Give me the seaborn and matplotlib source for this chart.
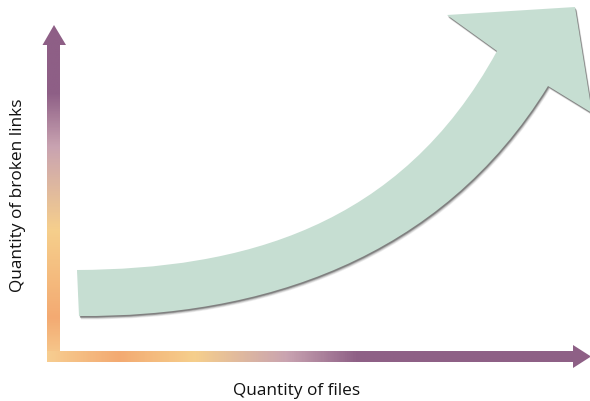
import matplotlib
matplotlib.use("Agg")
import matplotlib.pyplot as plt
from matplotlib.patches import Polygon, PathPatch
from matplotlib.path import Path
import seaborn as sns
import numpy as np

# growth band edges as cubic bezier control points (pixel-style coords, y grows downward)
upper_x = [77, 240, 400, 497]
upper_y = [271, 270, 230, 52]
lower_x = [548, 440, 260, 79]
lower_y = [87, 262, 318, 317]
# arrow head: left wing, tip, right wing
head_x = [447, 575, 592]
head_y = [16, 8, 114]

# axis gradient stops (fraction along axis, colour)
axis_stops = [0.0, 0.13, 0.39, 0.64, 0.8, 1.0]
y_axis_colors = ["#f7cd90", "#f3aa72", "#f6cf8c", "#c9a3b1", "#8e5f86", "#8e5f86"]
x_stops = [0.0, 0.13, 0.27, 0.44, 0.57, 1.0]
x_axis_colors = ["#f7cd90", "#f3aa72", "#f6cf8c", "#c9a3b1", "#8e6086", "#8e6086"]

xlabel = "Quantity of files"
ylabel = "Quantity of broken links"

sns.set_theme(style="white")
plt.rcParams['font.family'] = ['Open Sans', 'DejaVu Sans']

fig = plt.figure(figsize=(5.9, 4.02), dpi=100)
ax = fig.add_axes([0, 0, 1, 1])


def grad_cmap(stops, colors):
    n = 256
    pos = np.linspace(0, 1, n)
    rgb = np.array([matplotlib.colors.to_rgb(c) for c in colors])
    out = np.stack([np.interp(pos, stops, rgb[:, k]) for k in range(3)], axis=1)
    return matplotlib.colors.ListedColormap(out)


# vertical axis arrow
vert = Polygon([(47, 363), (47, 46), (42.5, 46), (54, 26), (66, 46), (60, 46), (60, 363)],
               closed=True, facecolor="none", edgecolor="none")
ax.add_patch(vert)
g = np.linspace(1, 0, 400).reshape(-1, 1)
im = ax.imshow(g, cmap=grad_cmap(axis_stops, y_axis_colors), extent=(40, 68, 363, 26),
               origin="upper", aspect="auto", interpolation="bilinear")
im.set_clip_path(vert)

# horizontal axis arrow
horiz = Polygon([(47, 352), (573, 352), (573, 346), (591, 357.5), (573, 369), (573, 363), (47, 363)],
                closed=True, facecolor="none", edgecolor="none")
ax.add_patch(horiz)
g2 = np.linspace(0, 1, 600).reshape(1, -1)
im2 = ax.imshow(g2, cmap=grad_cmap(x_stops, x_axis_colors), extent=(47, 592, 370, 344),
                origin="upper", aspect="auto", interpolation="bilinear")
im2.set_clip_path(horiz)

# big green arrow path: upper bezier, head, lower bezier
verts = list(zip(upper_x, upper_y))
codes = [Path.MOVETO, Path.CURVE4, Path.CURVE4, Path.CURVE4]
for hx, hy in zip(head_x, head_y):
    verts.append((hx, hy))
    codes.append(Path.LINETO)
verts.append((lower_x[0], lower_y[0]))
codes.append(Path.LINETO)
verts += list(zip(lower_x[1:], lower_y[1:]))
codes += [Path.CURVE4] * 3
verts.append(verts[0])
codes.append(Path.CLOSEPOLY)
verts = np.array(verts, dtype=float)

for off, a in [(3.5, 0.1), (2.8, 0.18), (2.0, 0.3), (1.4, 0.45)]:
    ax.add_patch(PathPatch(Path(verts + [off * 0.6, off], codes), facecolor="#505050",
                           edgecolor="none", alpha=a))
ax.add_patch(PathPatch(Path(verts, codes), facecolor="#c6ded2", edgecolor="none"))

ax.text(297, 391, xlabel, ha="center", va="center", fontsize=12.4, color="#111111")
ax.text(18, 195, ylabel, ha="center", va="center", rotation=90, fontsize=12.4, color="#111111")

ax.set_xlim(0, 590)
ax.set_ylim(402, 0)
ax.axis("off")

fig.savefig("out.png", dpi=100)
